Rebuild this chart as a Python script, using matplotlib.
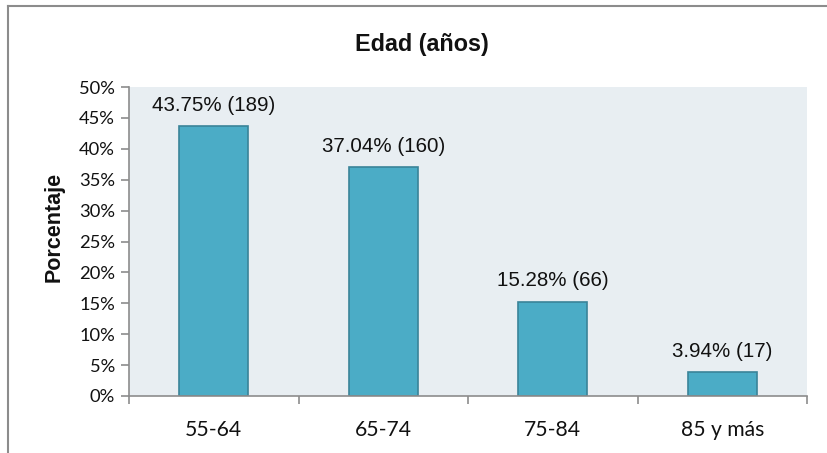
import matplotlib
matplotlib.use("Agg")
import matplotlib.pyplot as plt
from matplotlib.lines import Line2D

categories = ["55-64", "65-74", "75-84", "85 y más"]
percentages = [43.75, 37.04, 15.28, 3.94]
counts = [189, 160, 66, 17]
y_ticks = [0, 5, 10, 15, 20, 25, 30, 35, 40, 45, 50]

bar_color = "#4BACC6"
bar_edge = "#3A8499"
plot_bg = "#E8EEF2"
axis_gray = "#8C8C8C"

fig = plt.figure(figsize=(8.27, 4.53), dpi=100)
fig.patch.set_facecolor("white")

ax = fig.add_axes([129 / 827, 1 - 396 / 453, (807 - 129) / 827, (396 - 87) / 453])
ax.set_facecolor(plot_bg)

x = list(range(len(categories)))
ax.bar(x, percentages, width=0.41, color=bar_color, edgecolor=bar_edge,
       linewidth=1.2, zorder=2)

for xi, p, n in zip(x, percentages, counts):
    ax.annotate(f"{p:.2f}% ({n})", xy=(xi, p), xytext=(0, 8),
                textcoords="offset points", ha="center", va="bottom",
                fontsize=14.8, family="Liberation Sans", color="#111111")

ax.set_xlim(-0.5, len(categories) - 0.5)
ax.set_ylim(0, 50)
ax.set_yticks(y_ticks)
ax.set_yticklabels([f"{t}%" for t in y_ticks], family="Lato", fontsize=13.2,
                   color="#111111")

# category labels centred under bars, tick marks between categories
ax.set_xticks(x)
ax.set_xticklabels(categories, family="Lato", fontsize=15.2, color="#111111")
ax.tick_params(axis="x", length=0, pad=17)
ax.set_xticks([i - 0.5 for i in range(len(categories) + 1)], minor=True)
ax.tick_params(axis="x", which="minor", length=6, color=axis_gray, width=1.2)
ax.tick_params(axis="y", length=6, color=axis_gray, width=1.2, pad=4)

for side in ("top", "right"):
    ax.spines[side].set_visible(False)
for side in ("left", "bottom"):
    ax.spines[side].set_color(axis_gray)
    ax.spines[side].set_linewidth(1.2)

ax.set_ylabel("Porcentaje", family="Liberation Sans", fontweight="bold",
              fontsize=15.5, color="#111111")
ax.yaxis.set_label_coords(54 / 827, 0.5, transform=fig.transFigure)
ax.yaxis.label.set_verticalalignment("center")

fig.text(422 / 827, 1 - 44 / 453, "Edad (años)", ha="center", va="center",
         family="Liberation Sans", fontweight="bold", fontsize=16.8,
         color="#111111")

# outer chart frame (left and top edges)
fig.add_artist(Line2D([8 / 827, 8 / 827], [0, 1 - 6 / 453],
                      transform=fig.transFigure, color=axis_gray, lw=1.5))
fig.add_artist(Line2D([8 / 827, 1], [1 - 6 / 453, 1 - 6 / 453],
                      transform=fig.transFigure, color=axis_gray, lw=1.5))

fig.savefig("out.png", dpi=100, facecolor="white")
